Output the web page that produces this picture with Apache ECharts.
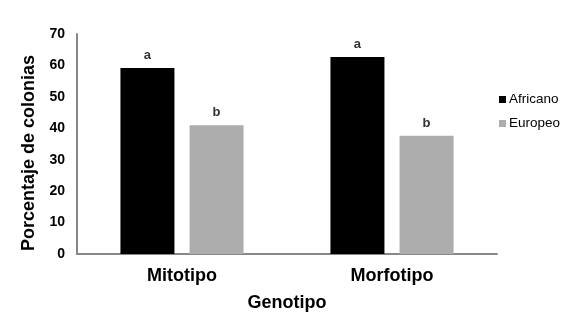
<!DOCTYPE html>
<html><head><meta charset="utf-8">
<script src="https://cdn.jsdelivr.net/npm/echarts@6/dist/echarts.min.js"></script>
<style>html,body{margin:0;padding:0;background:#fff}#c{width:568px;height:315px}</style>
</head><body><div id="c"></div>
<script>
const categories = ['Mitotipo', 'Morfotipo'];
const africano = [59.2, 62.7];
const europeo = [41.0, 37.6];
const africanoLetters = ['a', 'a'];
const europeoLetters = ['b', 'b'];
const yTicks = [0, 10, 20, 30, 40, 50, 60, 70];

const font = '"Liberation Sans", Arial, sans-serif';
const chart = echarts.init(document.getElementById('c'));
function lbl(letters) {
  return { show: true, position: 'top', distance: 6, fontFamily: font, fontSize: 13, fontWeight: 'bold', color: '#333',
    formatter: p => letters[p.dataIndex] };
}
chart.setOption({
  animation: false,
  textStyle: { fontFamily: font },
  legend: {
    orient: 'vertical', left: 494, top: 87, itemWidth: 7, itemHeight: 7, itemGap: 9,
    icon: 'rect', textStyle: { fontFamily: font, fontSize: 13.5, lineHeight: 15, color: '#000', padding: [0, 0, 0, -2] },
    data: ['Africano', 'Europeo']
  },
  grid: { left: 77, right: 71, top: 34, bottom: 61, outerBoundsMode: 'none', containLabel: false },
  xAxis: {
    type: 'category', data: categories,
    name: 'Genotipo', nameLocation: 'middle', nameGap: 40,
    nameTextStyle: { fontFamily: font, fontSize: 18, fontWeight: 'bold', color: '#000' },
    axisLine: { lineStyle: { color: '#888', width: 2 } },
    axisTick: { show: false },
    axisLabel: { fontFamily: font, fontSize: 18, fontWeight: 'bold', color: '#000', margin: 13 }
  },
  yAxis: {
    type: 'value', min: 0, max: 70, interval: 10,
    name: 'Porcentaje de colonias', nameLocation: 'middle', nameGap: 39,
    nameTextStyle: { fontFamily: font, fontSize: 18, fontWeight: 'bold', color: '#000', padding: [0, 18, 0, 0] },
    axisLine: { show: true, lineStyle: { color: '#888', width: 2 } },
    axisTick: { show: false },
    splitLine: { show: false },
    axisLabel: { fontFamily: font, fontSize: 14, fontWeight: 'bold', color: '#000', margin: 12,
      formatter: v => yTicks.includes(v) ? String(v) : '' }
  },
  series: [
    { name: 'Africano', type: 'bar', data: africano, barWidth: 54, barGap: '28%',
      itemStyle: { color: '#000' }, label: lbl(africanoLetters) },
    { name: 'Europeo', type: 'bar', data: europeo, barWidth: 54,
      itemStyle: { color: '#adadad' }, label: lbl(europeoLetters) }
  ]
});
</script></body></html>
